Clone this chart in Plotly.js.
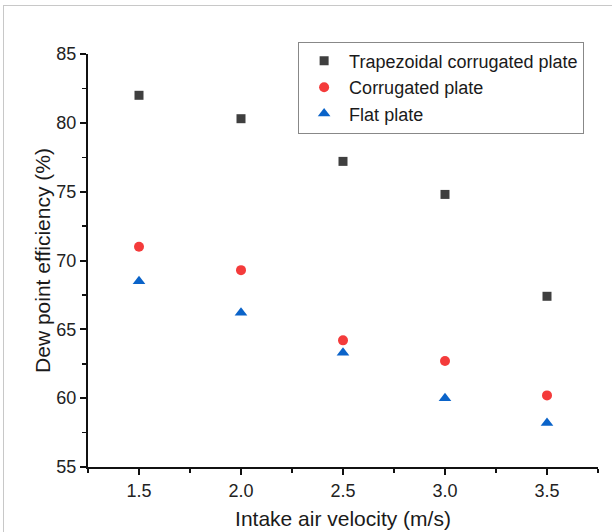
<!DOCTYPE html>
<html>
<head>
<meta charset="utf-8">
<script src="https://cdn.plot.ly/plotly-3.0.1.min.js"></script>
<style>
  html, body { margin: 0; padding: 0; background: #fff; }
  #frame { position: absolute; left: 3px; top: 5px; width: 620px; height: 540px;
           border-left: 1px solid #c8c8c8; border-top: 1px solid #c8c8c8; }
  #chart { position: absolute; left: 0; top: 0; width: 612px; height: 532px; }
</style>
</head>
<body>
<div id="frame"></div>
<div id="chart"></div>
<script>
const velocity = [1.5, 2.0, 2.5, 3.0, 3.5];
const seriesNames = ["Trapezoidal corrugated plate", "Corrugated plate", "Flat plate"];
const trapezoidal = [82.0, 80.3, 77.2, 74.8, 67.4];
const corrugated = [71.0, 69.3, 64.2, 62.7, 60.2];
const flat = [68.5, 66.2, 63.3, 60.0, 58.2];
const xTickLabels = ["1.5", "2.0", "2.5", "3.0", "3.5"];

const traces = [
  { x: velocity, y: trapezoidal, name: seriesNames[0], type: "scatter", mode: "markers",
    marker: { symbol: "square", size: 9, color: "#3f3f3f" } },
  { x: velocity, y: corrugated, name: seriesNames[1], type: "scatter", mode: "markers",
    marker: { symbol: "circle", size: 10, color: "#f43b3b" } },
  { x: velocity, y: flat, name: seriesNames[2], type: "scatter", mode: "markers",
    marker: { symbol: "triangle-up", size: 11, color: "#0a63c9" } }
];

const font = { family: "Liberation Sans, Arial, sans-serif", color: "#1a1a1a" };

const layout = {
  width: 612, height: 532,
  margin: { l: 88, r: 14, t: 54, b: 65 },
  paper_bgcolor: "rgba(0,0,0,0)",
  plot_bgcolor: "rgba(0,0,0,0)",
  font: font,
  showlegend: true,
  legend: {
    x: 0.412, y: 1.03, xanchor: "left", yanchor: "top",
    bgcolor: "#ffffff", bordercolor: "#888888", borderwidth: 1,
    font: { family: font.family, size: 18, color: "#1a1a1a" },
    tracegroupgap: 0, itemwidth: 40
  },
  xaxis: {
    range: [1.25, 3.75], tickvals: velocity, ticktext: xTickLabels,
    showgrid: false, zeroline: false,
    showline: true, linecolor: "#111", linewidth: 2,
    ticks: "outside", ticklen: 6, tickwidth: 2, tickcolor: "#111",
    tickfont: { family: font.family, size: 18, color: "#222" },
    minor: { dtick: 0.25, tick0: 1.25, ticks: "outside", ticklen: 4, tickwidth: 1.5, tickcolor: "#111", showgrid: false },
    title: { text: "Intake air velocity (m/s)", font: { family: font.family, size: 21, color: "#1a1a1a" }, standoff: 12 }
  },
  yaxis: {
    range: [55, 85], dtick: 5, tick0: 55,
    showgrid: false, zeroline: false,
    showline: true, linecolor: "#111", linewidth: 2,
    ticks: "outside", ticklen: 6, tickwidth: 2, tickcolor: "#111",
    tickfont: { family: font.family, size: 18, color: "#222" },
    minor: { dtick: 2.5, tick0: 55, ticks: "outside", ticklen: 4, tickwidth: 1.5, tickcolor: "#111", showgrid: false },
    title: { text: "Dew point efficiency (%)", font: { family: font.family, size: 21, color: "#1a1a1a" }, standoff: 0 }
  }
};

Plotly.newPlot("chart", traces, layout, { displayModeBar: false, staticPlot: true });
</script>
</body>
</html>
